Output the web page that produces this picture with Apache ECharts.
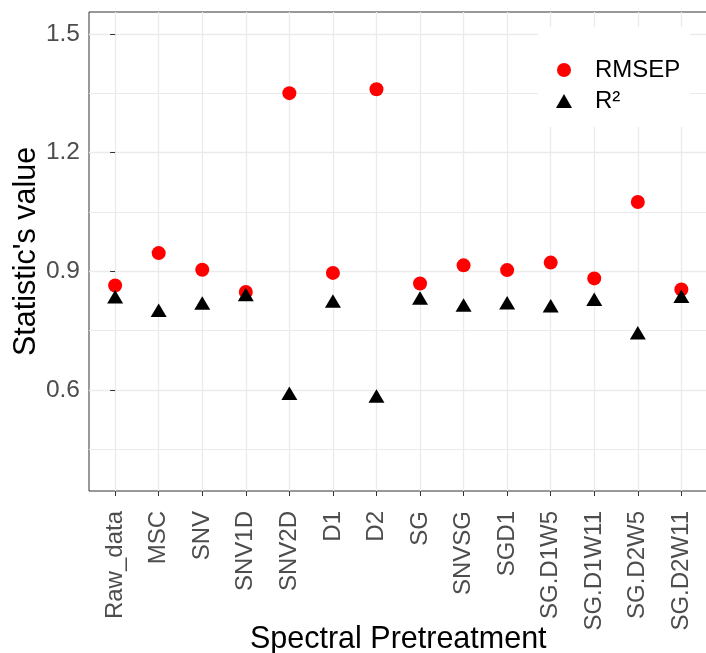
<!DOCTYPE html>
<html>
<head>
<meta charset="utf-8">
<script src="https://cdn.jsdelivr.net/npm/echarts@6/dist/echarts.min.js"></script>
<style>
html,body{margin:0;padding:0;background:#fff;}
#chart{width:706px;height:653px;}
</style>
</head>
<body>
<div id="chart"></div>
<script>
const categories = ['Raw_data','MSC','SNV','SNV1D','SNV2D','D1','D2','SG','SNVSG','SGD1','SG.D1W5','SG.D1W11','SG.D2W5','SG.D2W11'];
const rmsep = [0.864, 0.946, 0.904, 0.848, 1.350, 0.896, 1.360, 0.869, 0.915, 0.903, 0.922, 0.882, 1.075, 0.854];
const r2 = [0.830, 0.796, 0.814, 0.836, 0.586, 0.819, 0.579, 0.827, 0.809, 0.815, 0.807, 0.824, 0.739, 0.831];
const yTicks = [0.6, 0.9, 1.2, 1.5];
const yMinor = [0.45, 0.75, 1.05, 1.35];
const yRange = [0.345, 1.555];
const xRange = [-0.6, categories.length - 0.4];

const FONT = 'Liberation Sans';
const idx = categories.map((c, i) => i);

const chart = echarts.init(document.getElementById('chart'), null, {renderer: 'canvas'});
chart.setOption({
  animation: false,
  backgroundColor: '#fff',
  textStyle: {fontFamily: FONT},
  grid: {
    left: 89, right: -1.5, top: 12, bottom: 162,
    outerBoundsMode: 'none',
    containLabel: false,
    show: true, borderColor: '#333', borderWidth: 1, backgroundColor: 'transparent'
  },
  legend: {
    orient: 'vertical',
    left: 538, top: 27,
    padding: [31, 10, 14, 18],
    backgroundColor: '#fff',
    itemWidth: 16, itemHeight: 14, itemGap: 7,
    textStyle: {fontFamily: FONT, fontSize: 24, color: '#000', padding: [0, 0, 0, 18]},
    data: ['RMSEP', 'R²']
  },
  xAxis: {
    type: 'value',
    min: xRange[0], max: xRange[1],
    name: 'Spectral Pretreatment',
    nameLocation: 'middle',
    nameMoveOverlap: false,
    nameGap: 133,
    nameTextStyle: {fontFamily: FONT, fontSize: 30.5, color: '#000'},
    axisLine: {show: false},
    axisTick: {show: true, length: 5, lineStyle: {color: '#333', width: 1}, customValues: idx},
    axisLabel: {
      customValues: idx,
      rotate: 90, margin: 20,
      fontFamily: FONT, fontSize: 24, color: '#4D4D4D',
      formatter: v => categories[Math.round(v)] || ''
    },
    splitLine: {show: true, lineStyle: {color: '#EBEBEB', width: 1.3}}
  },
  yAxis: [{
    type: 'value',
    min: yRange[0], max: yRange[1],
    name: "Statistic's value",
    nameLocation: 'middle',
    nameMoveOverlap: false,
    nameGap: 47,
    nameTextStyle: {fontFamily: FONT, fontSize: 30.5, color: '#000'},
    axisLine: {show: false},
    axisTick: {show: true, length: 5, lineStyle: {color: '#333', width: 1}, customValues: yTicks},
    axisLabel: {
      customValues: yTicks,
      margin: 9,
      fontFamily: FONT, fontSize: 24.5, color: '#4D4D4D',
      formatter: v => v.toFixed(1)
    },
    splitLine: {show: true, lineStyle: {color: '#EBEBEB', width: 1.3}}
  }, {
    type: 'value',
    position: 'left',
    min: yRange[0], max: yRange[1],
    axisLine: {show: false},
    axisTick: {show: false, customValues: yMinor},
    axisLabel: {show: false, customValues: yMinor},
    splitLine: {show: true, lineStyle: {color: '#EBEBEB', width: 1}}
  }],
  series: [{
    name: 'RMSEP',
    type: 'scatter',
    symbol: 'circle',
    symbolSize: 14,
    itemStyle: {color: '#FF0000', opacity: 1},
    data: idx.map(i => [i, rmsep[i]]),
    z: 3
  }, {
    name: 'R²',
    type: 'scatter',
    symbol: 'triangle',
    symbolSize: [16, 13.5],
    symbolOffset: [0, -2.25],
    itemStyle: {color: '#000000', opacity: 1},
    data: idx.map(i => [i, r2[i]]),
    z: 4
  }]
});
</script>
</body>
</html>
